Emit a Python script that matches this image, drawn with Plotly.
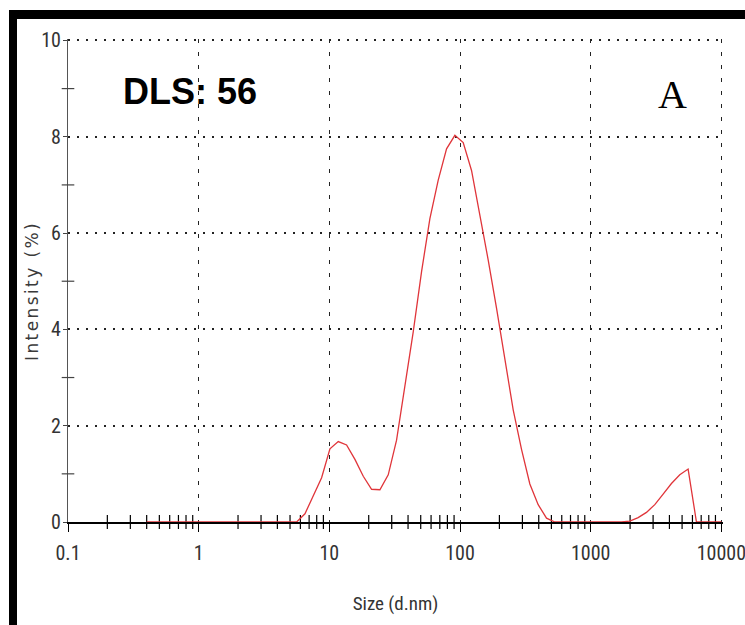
import plotly.graph_objects as go

# Size bins (d.nm) and intensity (%)
sizes = [0.4, 0.4632, 0.5365, 0.6213, 0.7195, 0.8332, 0.9649, 1.117, 1.294, 1.499,
         1.736, 2.01, 2.328, 2.696, 3.122, 3.615, 4.187, 4.849, 5.615, 6.503,
         7.531, 8.721, 10.1, 11.7, 13.54, 15.69, 18.17, 21.04, 24.36, 28.21,
         32.67, 37.84, 43.82, 50.75, 58.77, 68.06, 78.82, 91.28, 105.7, 122.4,
         141.8, 164.2, 190.1, 220.2, 255.0, 295.3, 342.0, 396.1, 458.7, 531.2,
         615.1, 712.4, 825.0, 955.4, 1106, 1281, 1484, 1718, 1990, 2305,
         2669, 3091, 3580, 4145, 4801, 5560, 6439, 7456, 8635, 10000]
intensity = [0, 0, 0, 0, 0, 0, 0, 0, 0, 0,
             0, 0, 0, 0, 0, 0, 0, 0, 0, 0.17,
             0.53, 0.92, 1.52, 1.67, 1.60, 1.30, 0.95, 0.68, 0.67, 0.98,
             1.70, 2.81, 3.95, 5.20, 6.30, 7.10, 7.75, 8.03, 7.88, 7.30,
             6.39, 5.44, 4.44, 3.40, 2.33, 1.51, 0.79, 0.36, 0.08, 0,
             0, 0, 0, 0, 0, 0, 0, 0, 0.02, 0.09,
             0.20, 0.36, 0.58, 0.80, 0.98, 1.10, 0, 0, 0, 0]

x_tickvals = [0.1, 1, 10, 100, 1000, 10000]
x_ticktext = ["0.1", "1", "10", "100", "1000", "10000"]
y_tickvals = [0, 2, 4, 6, 8, 10]
y_ticktext = ["0", "2", "4", "6", "8", "10"]
x_minor = [m * 10.0 ** k for k in range(-1, 4) for m in range(2, 10)]
y_minor = [1, 3, 5, 7, 9]

NARROW = "Roboto Condensed, DejaVu Sans Condensed, sans-serif"

fig = go.Figure()

# crossing minor ticks on the x axis
fig.add_trace(go.Scatter(
    x=x_minor, y=[0] * len(x_minor), mode="markers",
    marker=dict(symbol="line-ns", size=10, line=dict(color="black", width=1.2)),
    cliponaxis=False, hoverinfo="skip", showlegend=False))
# crossing minor ticks on the y axis
fig.add_trace(go.Scatter(
    x=[x_tickvals[0]] * len(y_minor), y=y_minor, mode="markers",
    marker=dict(symbol="line-ew", size=9, line=dict(color="#444", width=1.2)),
    cliponaxis=False, hoverinfo="skip", showlegend=False))

# distribution curve
fig.add_trace(go.Scatter(
    x=sizes, y=intensity, mode="lines",
    line=dict(color="#e0353a", width=1.3),
    cliponaxis=False, showlegend=False))

W, H = 745, 625
L, R, T, B = 68, 22, 39, 103
X_RANGE = [-1, 4.012]
Y_RANGE = [0, 10.03]
pw, ph = W - L - R, H - T - B

def px_x(p):
    return (p - L) / pw

def px_y(p):
    return (H - B - p) / ph

fig.update_layout(
    width=W, height=H,
    margin=dict(l=L, r=R, t=T, b=B, pad=0, autoexpand=False),
    paper_bgcolor="white", plot_bgcolor="white",
    xaxis=dict(
        type="log", range=X_RANGE,
        tickvals=x_tickvals, ticktext=x_ticktext,
        ticks="outside", ticklen=8, tickwidth=1.2, tickcolor="black",
        tickfont=dict(family=NARROW, size=20, color="#333"),
        ticklabelstandoff=4, ticklabeloverflow="allow",
        showline=True, linecolor="black", linewidth=2,
        showgrid=True, gridcolor="#222", gridwidth=1.4, griddash="4px,9px",
        zeroline=False, layer="below traces",
        title=dict(text="Size (d.nm)", font=dict(family=NARROW, size=19, color="#333"),
                   standoff=33),
    ),
    yaxis=dict(
        range=Y_RANGE,
        tickvals=y_tickvals, ticktext=y_ticktext,
        ticks="outside", ticklen=4, tickwidth=1.2, tickcolor="#444",
        tickfont=dict(family=NARROW, size=20, color="#333"),
        ticklabelstandoff=-2, ticklabeloverflow="allow",
        showline=True, linecolor="#555", linewidth=1.2,
        showgrid=True, gridcolor="#222", gridwidth=2, griddash="2px,7px",
        zeroline=False, layer="below traces",
    ),
    annotations=[
        dict(text='<span style="letter-spacing:2.4px">Intensity (%)</span>',
             xref="paper", yref="paper", x=px_x(32), y=px_y(291),
             xanchor="center", yanchor="middle", textangle=-90, showarrow=False,
             font=dict(family="DejaVu Sans, sans-serif", size=17, color="#3a3a3a")),
        dict(text="<b>DLS: 56</b>", xref="paper", yref="paper",
             x=px_x(190), y=px_y(92), xanchor="center", yanchor="middle",
             showarrow=False, font=dict(family="Liberation Sans, Arial, sans-serif", size=36, color="black")),
        dict(text="A", xref="paper", yref="paper",
             x=px_x(672), y=px_y(94), xanchor="center", yanchor="middle",
             showarrow=False, font=dict(family="Liberation Serif, Times New Roman, serif", size=40, color="black")),
    ],
    shapes=[
        dict(type="rect", xref="paper", yref="paper",
             x0=px_x(9), x1=px_x(745), y0=px_y(19), y1=px_y(10),
             fillcolor="black", line=dict(width=0), layer="above"),
        dict(type="rect", xref="paper", yref="paper",
             x0=px_x(9), x1=px_x(17), y0=px_y(625), y1=px_y(10),
             fillcolor="black", line=dict(width=0), layer="above"),
    ],
)

fig.write_html("out.html")
